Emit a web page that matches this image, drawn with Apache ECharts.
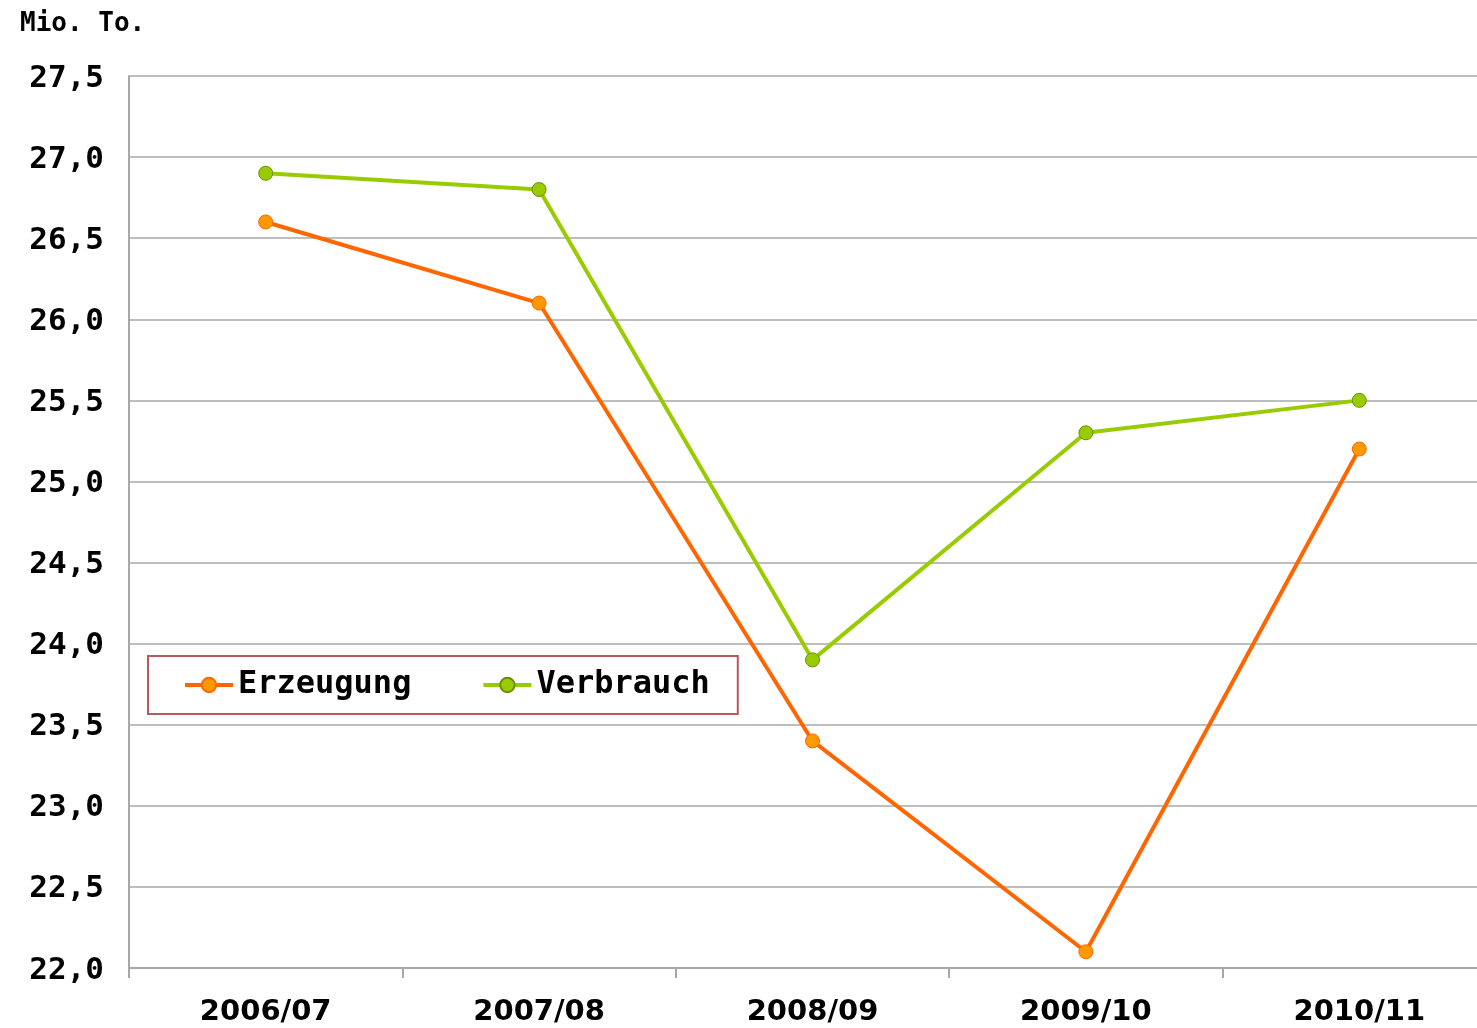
<!DOCTYPE html>
<html>
<head>
<meta charset="utf-8">
<script src="https://cdn.jsdelivr.net/npm/echarts@6/dist/echarts.min.js"></script>
<style>
  html, body { margin: 0; padding: 0; background: #fff; overflow: hidden; }
  /* the plot runs past the right edge of the picture, as in the original */
  #chart { width: 1496px; height: 1028px; }
</style>
</head>
<body>
<div id="chart"></div>
<script>
// Wirtschaftsjahre
var categories = ["2006/07", "2007/08", "2008/09", "2009/10", "2010/11"];
// Mio. To.
var erzeugung = [26.6, 26.1, 23.4, 22.1, 25.2];
var verbrauch = [26.9, 26.8, 23.9, 25.3, 25.5];
var seriesNames = ["Erzeugung", "Verbrauch"];

var monoFont = "'DejaVu Sans Mono', monospace";
var gridColor = "#a8a8a8";

var chart = echarts.init(document.getElementById("chart"));
var option = {
    backgroundColor: "#fff",
    animation: false,
    title: {
        text: "Mio. To.",
        left: 15,
        top: 6,
        textStyle: { fontFamily: monoFont, fontWeight: "bold", fontSize: 26, color: "#000" }
    },
    legend: {
        data: seriesNames,
        orient: "horizontal",
        left: 148,
        top: 656,
        padding: [13, 28, 13, 35],
        itemGap: 70,
        itemWidth: 48,
        itemHeight: 18,
        lineStyle: { width: 4 },
        borderColor: "#b85a5a",
        borderWidth: 2,
        backgroundColor: "#fff",
        textStyle: { fontFamily: monoFont, fontWeight: "bold", fontSize: 32, color: "#000" }
    },
    grid: {
        left: 129,
        top: 76,
        right: 0,
        bottom: 60,
        containLabel: false
    },
    xAxis: {
        type: "category",
        data: categories,
        boundaryGap: true,
        axisLine: { lineStyle: { color: gridColor, width: 2 } },
        axisTick: { show: true, length: 10, lineStyle: { color: gridColor, width: 2 } },
        axisLabel: {
            margin: 30,
            fontFamily: "'DejaVu Sans', sans-serif",
            fontWeight: "bold",
            fontSize: 29,
            color: "#000"
        }
    },
    yAxis: {
        type: "value",
        min: 22,
        max: 27.5,
        interval: 0.5,
        axisLine: { show: true, lineStyle: { color: gridColor, width: 2 } },
        axisTick: { show: false },
        splitLine: { lineStyle: { color: gridColor, width: 1.5 } },
        axisLabel: {
            margin: 25,
            verticalAlign: "top",
            lineHeight: 31,
            padding: [-13, 0, 0, 0],
            fontFamily: monoFont,
            fontWeight: "bold",
            fontSize: 31,
            color: "#000",
            formatter: function (v) { return v.toFixed(1).replace(".", ","); }
        }
    },
    series: [
        {
            name: seriesNames[0],
            type: "line",
            data: erzeugung,
            symbol: "circle",
            symbolSize: 14,
            lineStyle: { color: "#ff6600", width: 4 },
            itemStyle: { color: "#ff9900", borderColor: "#ff6600", borderWidth: 1 },
            z: 3
        },
        {
            name: seriesNames[1],
            type: "line",
            data: verbrauch,
            symbol: "circle",
            symbolSize: 14,
            lineStyle: { color: "#99cc00", width: 4 },
            itemStyle: { color: "#99cc00", borderColor: "#6b8e00", borderWidth: 1 },
            z: 2
        }
    ]
};
chart.setOption(option);
</script>
</body>
</html>
